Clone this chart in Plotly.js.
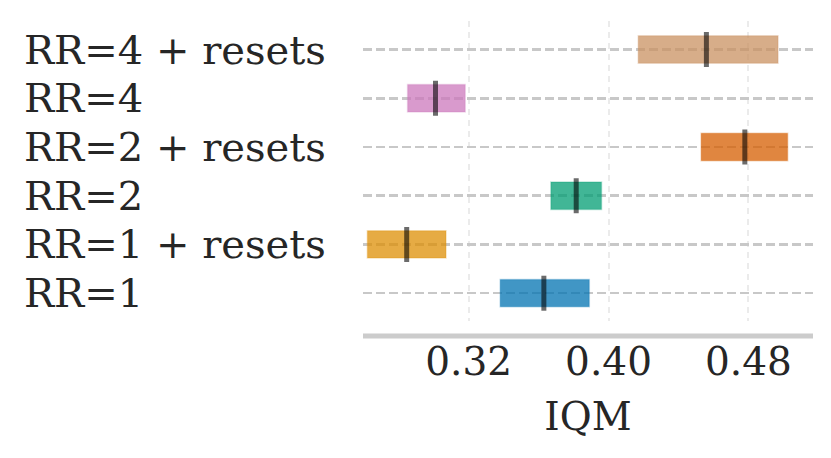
<!DOCTYPE html>
<html>
<head>
<meta charset="utf-8">
<script src="https://cdn.plot.ly/plotly-3.0.1.min.js"></script>
<style>html,body{margin:0;padding:0;background:#fff;}#chart{width:831px;height:458px;}</style>
</head>
<body>
<div id="chart"></div>
<script>
const methods = ["RR=1", "RR=1 + resets", "RR=2", "RR=2 + resets", "RR=4", "RR=4 + resets"];
const lower  = [0.338, 0.262, 0.367, 0.453, 0.285, 0.417];
const upper  = [0.389, 0.307, 0.396, 0.5025, 0.318, 0.497];
const median = [0.363, 0.2845, 0.3815, 0.478, 0.301, 0.456];
const colors = ["#0173b2", "#de8f05", "#029e73", "#d55e00", "#cc78bc", "#ca9161"];
const xTicks = [0.32, 0.40, 0.48];

function rgba(hex, a) {
  const r = parseInt(hex.slice(1,3),16), g = parseInt(hex.slice(3,5),16), b = parseInt(hex.slice(5,7),16);
  return `rgba(${r},${g},${b},${a})`;
}
const ypos = methods.map((m, i) => i);

const barTrace = {
  type: 'bar',
  orientation: 'h',
  y: ypos,
  base: lower,
  x: upper.map((u, i) => u - lower[i]),
  width: 0.56,
  marker: {
    color: colors.map(c => rgba(c, 0.75)),
    line: {color: colors.map(c => rgba(c, 0.25)), width: 1.5}
  },
  hoverinfo: 'skip',
  showlegend: false
};
const medTrace = {
  type: 'scatter',
  mode: 'markers',
  x: median,
  y: ypos,
  marker: {symbol: 'line-ns', size: 25, line: {width: 5, color: 'rgba(0,0,0,0.58)'}},
  hoverinfo: 'skip',
  showlegend: false
};

const font = {family: 'DejaVu Serif', size: 39, color: '#262626'};
const labelFont = {family: 'DejaVu Serif', size: 40, color: '#262626'};
const plotW = 831 - 363 - 18;
const layout = {
  width: 831, height: 458,
  margin: {l: 363, r: 18, t: 21, b: 137},
  paper_bgcolor: '#fff', plot_bgcolor: '#fff',
  font: font,
  barmode: 'overlay',
  xaxis: {
    range: [0.2595, 0.517],
    tickvals: xTicks,
    ticktext: xTicks.map(v => v.toFixed(2)),
    showgrid: true, gridcolor: '#ebebeb', gridwidth: 2, griddash: '6px,5px',
    zeroline: false, showline: false,
    ticks: 'outside', ticklen: 6, tickcolor: 'rgba(0,0,0,0)',
    tickfont: font,
    title: {text: 'IQM', font: font, standoff: 19}
  },
  yaxis: {
    range: [-0.57, 5.585],
    tickvals: ypos,
    showticklabels: false,
    showgrid: true, gridcolor: '#c8c8c8', gridwidth: 2.5, griddash: '9px,4px',
    zeroline: false, showline: false
  },
  annotations: methods.map((m, i) => ({
    text: m, xref: 'paper', yref: 'y',
    x: (22 - 363) / plotW, y: i,
    xanchor: 'left', yanchor: 'middle',
    showarrow: false, font: labelFont
  })),
  shapes: [{
    type: 'line', xref: 'paper', yref: 'paper',
    x0: 0, x1: 1, y0: -0.0503, y1: -0.0503,
    line: {color: '#cccccc', width: 5}
  }]
};

Plotly.newPlot('chart', [barTrace, medTrace], layout, {displayModeBar: false, staticPlot: true});
</script>
</body>
</html>
